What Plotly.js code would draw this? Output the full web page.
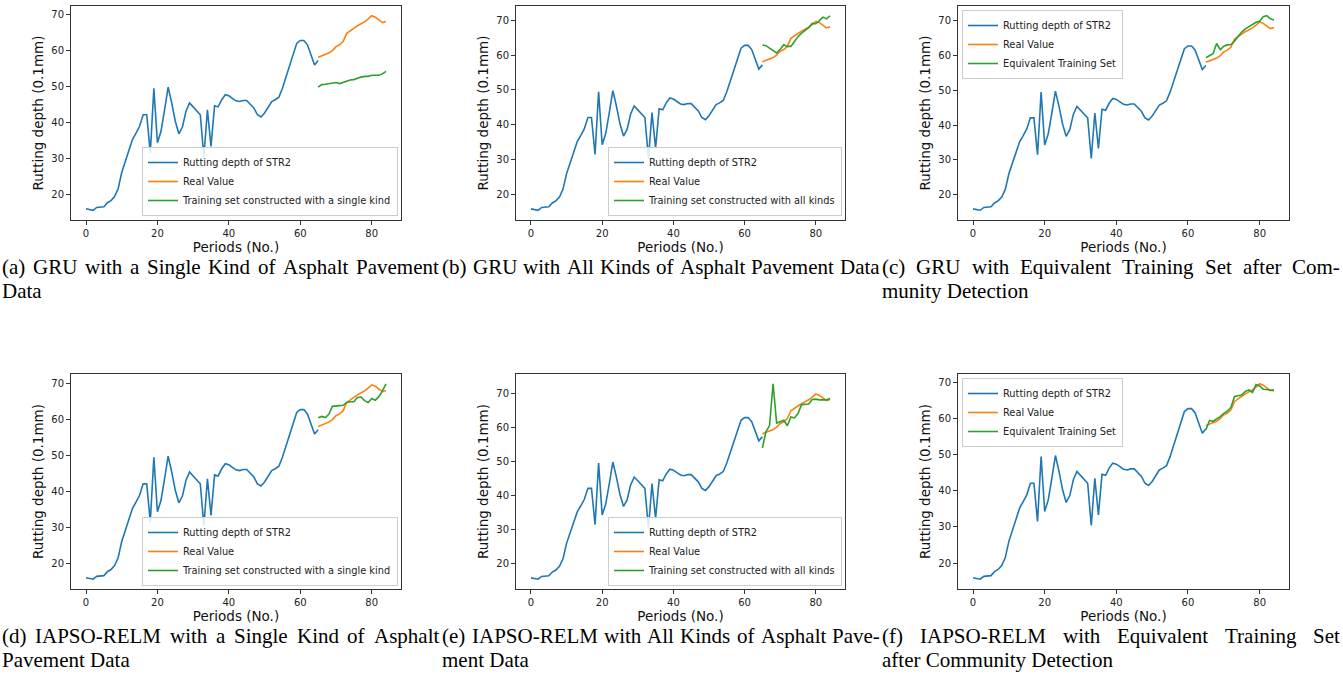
<!DOCTYPE html>
<html>
<head>
<meta charset="utf-8">
<script src="https://cdn.plot.ly/plotly-3.0.1.min.js"></script>
<style>html,body{margin:0;padding:0;background:#fff;}#chart{width:1343px;height:679px;}</style>
</head>
<body>
<div id="chart"></div>
<script>
// ---------------- DATA ----------------
const historyPeriods = [0,1,2,3,4,5,6,7,8,9,10,11,12,13,14,15,16,17,18,19,20,21,22,23,24,25,26,27,28,29,30,31,32,33,34,35,36,37,38,39,40,41,42,43,44,45,46,47,48,49,50,51,52,53,54,55,56,57,58,59,60,61,62,63,64,65];
const rutSTR2 = [15.9,15.6,15.5,16.3,16.5,16.5,17.6,18.2,19.3,21.5,26.0,29.3,32.6,35.2,37.0,38.9,42.1,42.1,31.5,49.5,34.3,37.5,43.5,49.8,45.4,40.3,36.8,38.7,43.1,45.4,44.3,43.2,42.1,30.4,43.5,33.3,44.6,44.3,46.3,47.7,47.4,46.7,46.0,45.8,46.1,46.1,45.1,44.0,42.1,41.5,42.6,44.3,45.8,46.3,47.0,49.5,52.6,56.0,59.3,62.0,62.8,62.8,61.6,58.8,56.0,57.2];
const forecastPeriods = [65,66,67,68,69,70,71,72,73,74,75,76,77,78,79,80,81,82,83,84];
const realValue = [58.1,58.5,58.8,59.3,60.0,61.1,61.6,62.5,64.8,65.6,66.2,66.9,67.4,68.0,68.8,69.7,69.3,68.5,67.8,68.1];
const gruSingle = [49.8,50.5,50.6,50.8,50.9,51.1,50.8,51.2,51.6,51.8,51.9,52.3,52.6,52.8,52.8,53.1,53.1,53.1,53.5,54.2];
const gruAll = [62.9,62.7,62.0,61.3,60.6,61.7,63.0,62.5,62.5,63.9,65.3,66.3,67.0,67.9,69.1,69.0,69.9,70.9,70.4,71.3];
const gruEquivalent = [59.4,60.1,60.6,63.5,61.7,62.7,63.1,63.2,64.2,65.5,66.8,67.7,68.4,69.0,69.6,69.9,71.2,71.5,70.6,70.3];
const relmSingle = [60.5,60.9,60.6,61.5,63.7,63.9,63.9,64.0,64.8,65.0,65.0,66.2,66.3,65.3,64.8,65.9,65.4,66.4,68.0,70.0];
const relmAll = [53.9,58.7,60.4,72.7,61.2,61.7,62.0,60.4,63.0,62.7,64.0,66.6,66.8,66.8,68.1,68.2,68.0,67.9,68.0,68.4];
const relmEquivalent = [56.9,59.5,59.3,59.9,60.6,61.5,62.1,63.2,66.2,66.4,66.6,67.6,68.0,67.3,69.5,69.1,68.2,68.1,68.0,67.8];

const seriesNames = ["Rutting depth of STR2", "Real Value"];
const predictionNames = [
  "Training set constructed with a single kind",
  "Training set constructed with all kinds",
  "Equivalent Training Set",
  "Training set constructed with a single kind",
  "Training set constructed with all kinds",
  "Equivalent Training Set"
];
const predictions = [gruSingle, gruAll, gruEquivalent, relmSingle, relmAll, relmEquivalent];
const xTitle = "Periods (No.)";
const yTitle = "Rutting depth (0.1mm)";
const xTicks = [0,20,40,60,80];
const yTicks = [20,30,40,50,60,70];
const captions = [
  ["(a) GRU with a Single Kind of Asphalt Pavement", "Data"],
  ["(b) GRU with All Kinds of Asphalt Pavement Data"],
  ["(c) GRU with Equivalent Training Set after Com-", "munity Detection"],
  ["(d) IAPSO-RELM with a Single Kind of Asphalt", "Pavement Data"],
  ["(e) IAPSO-RELM with All Kinds of Asphalt Pave-", "ment Data"],
  ["(f) IAPSO-RELM with Equivalent Training Set", "after Community Detection"]
];

// ---------------- LAYOUT ----------------
const W = 1343, H = 679;
const colors = ["#1f77b4", "#ff7f0e", "#2ca02c"];
// axes boxes in pixels [left, right, top, bottom]
const boxes = [
  [71, 401, 6, 220], [516, 845, 6, 220], [958, 1289, 6, 220],
  [71, 401, 374, 589], [516, 845, 374, 589], [958, 1289, 374, 589]
];
// legend anchor: [x px, y px, xanchor, yanchor]
const legendPos = [
  [398, 216, "right", "bottom"], [842, 216, "right", "bottom"], [962, 10, "left", "top"],
  [398, 586, "right", "bottom"], [842, 586, "right", "bottom"], [962, 378, "left", "top"]
];
const captionCols = [[0, 437], [440, 438], [880, 458], [0, 437], [440, 438], [880, 458]];
const captionRows = [[267, 291], [267, 291], [267, 291], [636, 660], [636, 660], [636, 660]];

const traces = [];
const layout = {
  width: W, height: H,
  margin: {l: 0, r: 0, t: 0, b: 0},
  paper_bgcolor: "#fff", plot_bgcolor: "#fff",
  font: {family: "DejaVu Sans", color: "#222"},
  annotations: []
};

for (let k = 0; k < 6; k++) {
  const s = k === 0 ? "" : String(k + 1);
  const xa = "x" + s, ya = "y" + s, lg = "legend" + s;
  traces.push({x: historyPeriods, y: rutSTR2, xaxis: xa, yaxis: ya, legend: lg, type: "scatter", mode: "lines",
    name: seriesNames[0], line: {color: colors[0], width: 1.6}});
  traces.push({x: forecastPeriods, y: realValue, xaxis: xa, yaxis: ya, legend: lg, type: "scatter", mode: "lines",
    name: seriesNames[1], line: {color: colors[1], width: 1.6}});
  traces.push({x: forecastPeriods, y: predictions[k], xaxis: xa, yaxis: ya, legend: lg, type: "scatter", mode: "lines",
    name: predictionNames[k], line: {color: colors[2], width: 1.6}});

  const all = rutSTR2.concat(realValue, predictions[k]);
  const mn = Math.min(...all), mx = Math.max(...all), pad = 0.05 * (mx - mn);
  const b = boxes[k];
  const common = {
    showline: true, mirror: true, linecolor: "#333", linewidth: 1,
    ticks: "outside", ticklen: 4, tickcolor: "#333", tickwidth: 1,
    tickfont: {family: "DejaVu Sans", size: 10, color: "#222"},
    showgrid: false, zeroline: false, fixedrange: true
  };
  layout["xaxis" + s] = Object.assign({}, common, {
    domain: [b[0] / W, b[1] / W], anchor: ya,
    range: [-4.2, 88.2], tickvals: xTicks,
    title: {text: xTitle, font: {family: "DejaVu Sans", size: 13.5, color: "#111"}, standoff: 3}
  });
  layout["yaxis" + s] = Object.assign({}, common, {
    domain: [1 - b[3] / H, 1 - b[2] / H], anchor: xa,
    range: [mn - pad, mx + pad], tickvals: yTicks,
    title: {text: yTitle, font: {family: "DejaVu Sans", size: 13.5, color: "#111"}, standoff: 4}
  });
  const lp = legendPos[k];
  layout[lg] = {
    x: lp[0] / W, y: 1 - lp[1] / H, xanchor: lp[2], yanchor: lp[3],
    xref: "paper", yref: "paper",
    bgcolor: "rgba(255,255,255,0.85)", bordercolor: "#cccccc", borderwidth: 1,
    font: {family: "DejaVu Sans", size: 9.8, color: "#222"},
    itemwidth: 30, tracegroupgap: 0
  };
}

// captions (justified first lines, like the LaTeX source)
const capFont = "Liberation Serif";
const capSize = 21;
const ctx = document.createElement("canvas").getContext("2d");
function addText(txt, px, py, size) {
  layout.annotations.push({text: txt, x: px / W, y: 1 - py / H, xref: "paper", yref: "paper",
    xanchor: "left", yanchor: "middle", showarrow: false,
    font: {family: capFont, size: size, color: "#000"}});
}
for (let k = 0; k < 6; k++) {
  const [x0, width] = captionCols[k];
  const lines = captions[k];
  lines.forEach((line, i) => {
    const py = captionRows[k][i];
    const justify = i < lines.length - 1 || k === 1;
    if (!justify) { addText(line, x0, py, capSize); return; }
    ctx.font = capSize + "px '" + capFont + "'";
    let size = capSize;
    const natural = ctx.measureText(line).width;
    if (natural > width) size = Math.floor(capSize * width / natural * 10) / 10;
    ctx.font = size + "px '" + capFont + "'";
    const words = line.split(" ");
    const widths = words.map(w => ctx.measureText(w).width);
    const total = widths.reduce((a, c) => a + c, 0);
    const gap = (width - total) / (words.length - 1);
    let cx = x0;
    words.forEach((w, j) => { addText(w, cx, py, size); cx += widths[j] + gap; });
  });
}

Plotly.newPlot("chart", traces, layout, {staticPlot: true, displayModeBar: false});
</script>
</body>
</html>
